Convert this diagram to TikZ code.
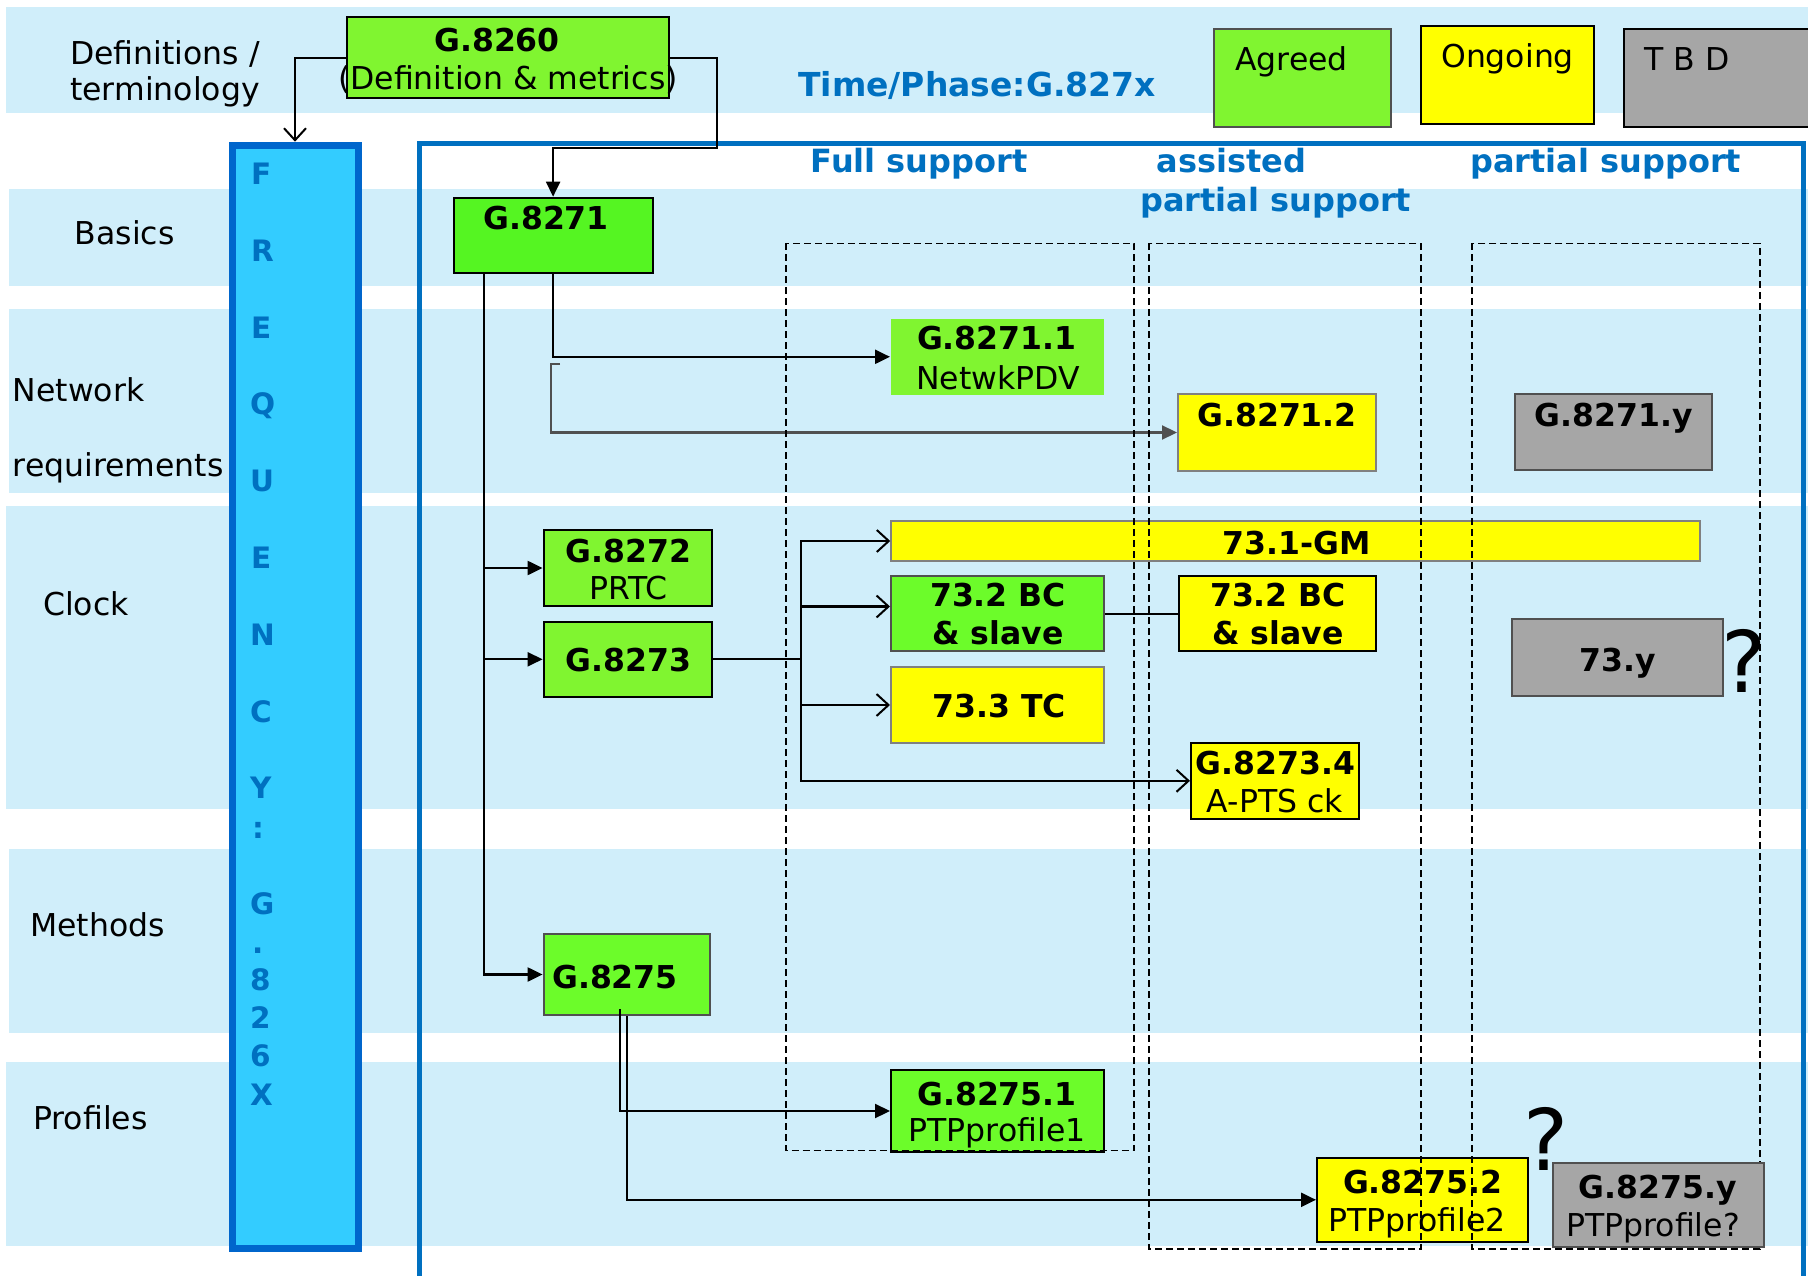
\documentclass[tikz,border=0pt]{standalone}
\usepackage{fontspec}
\setmainfont{DejaVu Sans}
\usetikzlibrary{arrows.meta,calc}

\definecolor{band}{RGB}{208,238,250}
\definecolor{freqfill}{RGB}{51,204,255}
\definecolor{freqedge}{RGB}{0,102,204}
\definecolor{tblue}{RGB}{0,112,192}
\definecolor{gA}{RGB}{128,245,48}
\definecolor{gB}{RGB}{85,245,34}
\definecolor{gC}{RGB}{108,252,42}
\definecolor{yel}{RGB}{255,255,0}
\definecolor{gry}{RGB}{166,166,166}
\definecolor{dgry}{RGB}{80,80,80}

\newcommand\myreg{\fontsize{31.5pt}{38pt}\selectfont}
\newcommand\mybold{\fontsize{31.5pt}{38pt}\selectfont\bfseries}
\newcommand\myhdr{\fontsize{32pt}{38pt}\selectfont\bfseries}
\newcommand\mytime{\fontsize{33pt}{38pt}\selectfont\bfseries}
\newcommand\myq{\fontsize{85pt}{90pt}\selectfont}
\newcommand\myfq{\fontsize{29.5pt}{32pt}\selectfont\bfseries}

\begin{document}
\begin{tikzpicture}[x=1pt,y=-1pt,
  bandbox/.style={fill=band,draw=none},
  boxnode/.style={draw,line width=2pt,inner sep=0pt},
  lbl/.style={inner sep=0pt,anchor=base west,font=\myreg},
  hdr/.style={inner sep=0pt,anchor=base west,font=\myhdr,text=tblue},
  rt/.style={inner sep=0pt,anchor=base,font=\myreg},
  bt/.style={inner sep=0pt,anchor=base,font=\mybold},
  fq/.style={inner sep=0pt,anchor=base west,font=\myfq,text=tblue},
  qm/.style={inner sep=0pt,anchor=base,font=\myq},
  fillarr/.style={-{Triangle[length=15pt,width=14pt]},line width=2.2pt},
  greyarr/.style={-{Triangle[length=15pt,width=14pt]},line width=2.2pt,draw=dgry},
  openarr/.style={-{Straight Barb[length=12pt,width=22pt,line width=2pt]},line width=2.2pt},
  colbox/.style={draw,line width=1.5pt,dash pattern=on 7pt off 4pt}
]
\path[use as bounding box,clip] (0,0) rectangle (1808,1276);
\fill[white] (0,0) rectangle (1808,1276);

% bands
\path[bandbox] (6,7) rectangle (1808,113);
\path[bandbox] (9,189) rectangle (1808,286);
\path[bandbox] (9,308.6) rectangle (1808,492.5);
\path[bandbox] (6,505.7) rectangle (1808,809);
\path[bandbox] (9,849) rectangle (1808,1033);
\path[bandbox] (6,1061.7) rectangle (1808,1245.7);

% row labels
\node[lbl] (lDef) at (70,65) {Definitions /};
\node[lbl] (lTerm) at (70,101) {terminology};
\node[lbl] (lBas) at (74.6,245) {Basics};
\node[lbl] (lNet) at (12.6,401) {Network};
\node[lbl] (lReq) at (12.6,476.4) {requirements};
\node[lbl] (lClk) at (43,615.5) {Clock};
\node[lbl] (lMet) at (30,936.5) {Methods};
\node[lbl] (lPro) at (33,1129) {Profiles};

% frequency column
\node[draw=freqedge,fill=freqfill,line width=7pt,minimum width=126pt,minimum height=1103pt,inner sep=0pt] (freq) at (295,696.7) {};
\node[fq] (f1) at (251,184.5) {F};
\node[fq] (f2) at (251,261.3) {R};
\node[fq] (f3) at (251,338) {E};
\node[fq] (f4) at (250,414.8) {Q};
\node[fq] (f5) at (250,491.6) {U};
\node[fq] (f6) at (251,568.4) {E};
\node[fq] (f7) at (250,645) {N};
\node[fq] (f8) at (250,722) {C};
\node[fq] (f9) at (250,798.7) {Y};
\node[fq] (f10) at (252,838) {:};
\node[fq] (f11) at (250,914.5) {G};
\node[fq] (f12) at (252,953) {.};
\node[fq] (f13) at (250,990.5) {8};
\node[fq] (f14) at (250,1028.5) {2};
\node[fq] (f15) at (250,1066.5) {6};
\node[fq] (f16) at (250,1105.5) {X};

% time/phase frame
\draw[tblue,line width=5pt] (419.5,1290) -- (419.5,144) -- (1803.5,144) -- (1803.5,1290);

% headers
\node[inner sep=0pt,anchor=base west,font=\mytime,text=tblue] (hTime) at (798,97) {Time/Phase:G.827x};
\node[hdr] (hFull) at (810.6,172.7) {Full support};
\node[hdr] (hAss) at (1156.5,172.7) {assisted};
\node[hdr] (hAss2) at (1140,211.7) {partial support};
\node[hdr] (hPart) at (1470,172.7) {partial support};

% legend
\node[boxnode,fill=gA,draw=dgry,line width=1.5pt,minimum width=177pt,minimum height=98pt] (lgA) at (1302.5,78) {};
\node[lbl] (lgAt) at (1235,70.7) {Agreed};
\node[boxnode,fill=yel,minimum width=173pt,minimum height=98pt] (lgO) at (1507.5,75) {};
\node[lbl] (lgOt) at (1441,68) {Ongoing};
\node[boxnode,fill=gry,line width=2.5pt,minimum width=210pt,minimum height=98pt] (lgT) at (1729,78) {};
\node[lbl] (lgTt) at (1644,70.7) {T B D};

% boxes
\node[boxnode,fill=gA,minimum width=322.6pt,minimum height=81pt] (g8260) at (508,57.8) {};
\node[bt] (g8260a) at (497,51.7) {G.8260};
\node[rt] (g8260b) at (508,89.3) {(Definition \& metrics)};

\node[boxnode,fill=gB,minimum width=199.2pt,minimum height=75.6pt] (g8271) at (553.1,235.5) {};
\node[bt] (g8271a) at (546,229.3) {G.8271};

\node[boxnode,fill=gA,draw=none,minimum width=212.8pt,minimum height=76.4pt] (g82711) at (997.4,356.8) {};
\node[bt] (g82711a) at (996.8,349.6) {G.8271.1};
\node[rt] (g82711b) at (998,389) {NetwkPDV};

\node[boxnode,fill=yel,draw=gray,minimum width=198pt,minimum height=77pt] (g82712) at (1277,432.5) {};
\node[bt] (g82712a) at (1277,426) {G.8271.2};

\node[boxnode,fill=gry,draw=dgry,minimum width=197pt,minimum height=76.4pt] (g8271y) at (1613.5,431.8) {};
\node[bt] (g8271ya) at (1613.5,426) {G.8271.y};

\node[boxnode,fill=gA,minimum width=168.8pt,minimum height=76pt] (g8272) at (628,568) {};
\node[bt] (g8272a) at (628.5,562) {G.8272};
\node[rt] (g8272b) at (628.5,599.6) {PRTC};

\node[boxnode,fill=gA,minimum width=168.8pt,minimum height=75pt] (g8273) at (628,659.3) {};
\node[bt] (g8273a) at (628.5,671.8) {G.8273};

\node[boxnode,fill=yel,draw=gray,line width=1.5pt,minimum width=809pt,minimum height=40pt] (gm731) at (1295.5,541) {};
\node[bt] (gm731a) at (1296.6,554) {73.1-GM};

\node[boxnode,fill=gC,draw=dgry,minimum width=212.8pt,minimum height=75.7pt] (bc732g) at (997.4,613.5) {};
\node[bt] (bc732ga) at (998,606.8) {73.2 BC};
\node[bt] (bc732gb) at (998,644) {\& slave};

\node[boxnode,fill=yel,minimum width=197pt,minimum height=75.7pt] (bc732y) at (1277.5,613.5) {};
\node[bt] (bc732ya) at (1278,606.8) {73.2 BC};
\node[bt] (bc732yb) at (1278,644) {\& slave};

\node[boxnode,fill=yel,draw=gray,minimum width=212.8pt,minimum height=76.2pt] (tc733) at (997.4,705) {};
\node[bt] (tc733a) at (999,717.5) {73.3 TC};

\node[boxnode,fill=yel,minimum width=168pt,minimum height=75.6pt] (g82734) at (1275,780.8) {};
\node[bt] (g82734a) at (1275.5,774.6) {G.8273.4};
\node[rt] (g82734b) at (1275,812) {A-PTS ck};

\node[boxnode,fill=gry,draw=dgry,minimum width=211pt,minimum height=77pt] (y73) at (1617.5,657.5) {};
\node[bt] (y73a) at (1618,671) {73.y};

\node[boxnode,fill=gC,draw=dgry,minimum width=166.4pt,minimum height=81pt] (g8275) at (626.8,974.5) {};
\node[inner sep=0pt,anchor=base west,font=\mybold] (g8275a) at (552,988.3) {G.8275};

\node[boxnode,fill=gC,minimum width=212.8pt,minimum height=82pt] (g82751) at (997.4,1111) {};
\node[bt] (g82751a) at (997,1105) {G.8275.1};
\node[rt] (g82751b) at (997,1141.7) {PTPprofile1};

\node[boxnode,fill=yel,minimum width=211pt,minimum height=83.7pt] (g82752) at (1422.5,1199.8) {};
\node[bt] (g82752a) at (1422.7,1193) {G.8275.2};
\node[rt] (g82752b) at (1417,1231.7) {PTPprofile2};

% connectors
\coordinate (k1) at (717,147.7);
\draw[openarr] (g8260.west) -| (freq.north);
\draw[fillarr] (g8260.east) -| (k1) -| (g8271.north);

\coordinate (t0) at (484,273.3);
\draw[fillarr] (t0) |- (g8272.west);
\draw[fillarr] (t0) |- (g8273.west);
\draw[fillarr] (t0) |- (g8275.west);
\draw[fillarr] (g8271.south) |- (g82711.west);

\coordinate (gb) at (560,364);
\draw[greyarr] (gb) -- ++(-9,0) |- (g82712.west);

\coordinate (fk) at (801,659.3);
\draw[line width=2.2pt] (g8273.east) -- (fk);
\draw[openarr] (fk) |- (gm731.west);
\draw[openarr] (fk) |- ($(bc732g.west)+(0,-7)$);
\draw[openarr] (fk) |- (tc733.west);
\draw[openarr] (fk) |- (g82734.west);
\draw[line width=2pt] (bc732g.east) -- (bc732y.west);

\coordinate (pa) at (620,1009);
\draw[fillarr] (pa) |- (g82751.west);
\draw[fillarr] (g8275.south) |- (g82752.west);

% dashed columns
\draw[colbox] (786,243.3) rectangle (1134,1150.7);
\draw[colbox] (1149,243.3) rectangle (1421,1249);
\draw[colbox] (1472,243.3) rectangle (1760,1249);

\node[boxnode,fill=gry,draw=dgry,minimum width=211.4pt,minimum height=84pt] (g8275y) at (1658.3,1205) {};
\node[bt] (g8275ya) at (1657.8,1198.3) {G.8275.y};
\node[rt] (g8275yb) at (1653,1236.7) {PTPprofile?};

% question marks
\node[qm] (q1) at (1744,692.5) {?};
\node[qm] (q2) at (1546.5,1170.7) {?};
\end{tikzpicture}
\end{document}
